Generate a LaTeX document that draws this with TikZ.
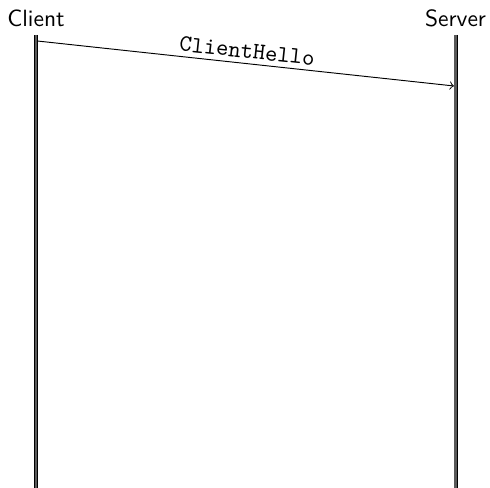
\documentclass[tikz,border=0pt]{standalone}
\begin{document}
\begin{tikzpicture}[x=1cm,y=1cm,
  lifeline/.style={draw=black, line width=0.3pt, double=black!65, double distance=1.1pt},
  actor/.style={font=\sffamily, anchor=base, inner sep=0pt},
  msg/.style={->, line width=0.4pt},
  msglabel/.style={font=\ttfamily, sloped, above, inner sep=2pt}]
\useasboundingbox (0,0) rectangle (7.324,-7.294);
\node[actor] (client) at (0.538,-0.389) {Client};
\node[actor] (server) at (6.809,-0.389) {Server};
\coordinate (ctop) at (0.538,-0.523);
\coordinate (cbot) at (0.538,-7.4);
\coordinate (stop) at (6.809,-0.523);
\coordinate (sbot) at (6.809,-7.4);
\draw[lifeline] (ctop) -- (cbot);
\draw[lifeline] (stop) -- (sbot);
\coordinate (m1s) at (0.56,-0.613);
\coordinate (m1e) at (6.785,-1.285);
\draw[msg] (m1s) -- node[msglabel] {ClientHello} (m1e);
\end{tikzpicture}
\end{document}
